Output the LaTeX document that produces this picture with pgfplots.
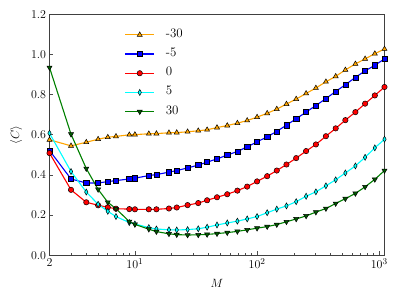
\documentclass[border=0pt]{standalone}
\usepackage{pgfplots}
\pgfplotsset{compat=1.18}
\usepackage{pgfplotstable}
\definecolor{cOr}{HTML}{FFA500}
\definecolor{cBl}{HTML}{0000FF}
\definecolor{cRe}{HTML}{FF0000}
\definecolor{cCy}{HTML}{00FFFF}
\definecolor{cGr}{HTML}{008000}
\definecolor{cGrF}{HTML}{005A00}
\pgfplotstableread{
M a b c d e
2 0.575 0.522 0.509 0.608 0.935
3 0.545 0.380 0.326 0.417 0.603
4 0.563 0.360 0.264 0.315 0.432
5 0.578 0.360 0.249 0.254 0.328
6 0.588 0.367 0.239 0.219 0.264
7 0.592 0.372 0.232 0.193 0.232
9 0.600 0.380 0.230 0.163 0.168
10 0.601 0.384 0.229 0.156 0.154
13 0.605 0.397 0.229 0.138 0.130
15 0.606 0.402 0.229 0.131 0.118
19 0.610 0.414 0.233 0.127 0.107
22 0.611 0.422 0.238 0.126 0.103
27 0.615 0.435 0.250 0.128 0.101
33 0.620 0.449 0.260 0.132 0.102
39 0.625 0.464 0.274 0.140 0.104
47 0.636 0.480 0.289 0.151 0.108
57 0.646 0.499 0.304 0.161 0.113
69 0.658 0.517 0.322 0.170 0.119
83 0.671 0.540 0.342 0.181 0.127
100 0.688 0.565 0.368 0.193 0.135
121 0.707 0.590 0.394 0.212 0.143
145 0.728 0.617 0.422 0.230 0.153
174 0.753 0.648 0.452 0.246 0.167
209 0.778 0.680 0.484 0.267 0.181
252 0.806 0.713 0.519 0.294 0.196
303 0.833 0.746 0.552 0.316 0.215
366 0.864 0.780 0.593 0.346 0.233
440 0.891 0.816 0.632 0.376 0.258
528 0.923 0.849 0.673 0.410 0.282
638 0.953 0.886 0.713 0.445 0.308
766 0.978 0.918 0.755 0.488 0.341
920 1.004 0.946 0.796 0.535 0.378
1104 1.027 0.978 0.838 0.578 0.422
}\datatable
\newcommand{\myfont}{\fontsize{13}{15.6}\selectfont}
\begin{document}
\begin{tikzpicture}[font=\myfont]
\begin{axis}[
  scale only axis, width=335bp, height=241bp,
  font=\myfont,
  tick label style={font=\myfont},
  label style={font=\myfont},
  xmode=log, log basis x=10,
  xmin=2, xmax=1104, ymin=0, ymax=1.2,
  xtick={2,10,100,1000},
  xticklabels={$2$,$10^1$,$10^2$,$10^3$},
  minor xtick={3,4,5,6,7,8,9,20,30,40,50,60,70,80,90,200,300,400,500,600,700,800,900},
  ytick={0,0.2,0.4,0.6,0.8,1.0,1.2},
  yticklabel style={/pgf/number format/.cd,fixed,fixed zerofill,precision=1},
  tick pos=left, tick align=inside,
  major tick length=4bp, minor tick length=2bp,
  every tick/.style={black!70, line width=0.6bp},
  axis line style={black!75, line width=0.9bp},
  xlabel={$M$}, ylabel={$\langle C\rangle$},
  xlabel style={yshift=-4bp},
  ylabel style={yshift=2bp},
  legend cell align=left,
  legend style={draw=none, fill=none, font=\myfont,
    at={(axis description cs:0.215,0.955)}, anchor=north west,
    row sep=4.2bp, nodes={inner sep=0pt, text height=10bp, text depth=5bp},
    /tikz/every odd column/.append style={column sep=11bp}},
  legend image code/.code={\draw[mark repeat=2,mark phase=2] plot coordinates {(0bp,0bp) (14.5bp,0bp) (29bp,0bp)};},
]
\addplot[color=cOr, line width=1.1bp, mark=triangle*, mark size=2.9bp, mark options={draw=black, fill=cOr, line width=0.5bp}] table[x=M,y=a]{\datatable};
\addlegendentry{-30}
\addplot[color=cBl, line width=1.1bp, mark=square*, mark size=2.6bp, mark options={draw=black, fill=cBl, line width=0.5bp}] table[x=M,y=b]{\datatable};
\addlegendentry{-5}
\addplot[color=cRe, line width=1.1bp, mark=*, mark size=2.7bp, mark options={draw=black, fill=cRe, line width=0.5bp}] table[x=M,y=c]{\datatable};
\addlegendentry{0}
\addplot[color=cCy, line width=1.1bp, mark=diamond*, mark size=3bp, mark options={draw=black, fill=cCy, line width=0.5bp, xscale=0.75}] table[x=M,y=d]{\datatable};
\addlegendentry{5}
\addplot[color=cGr, line width=1.1bp, mark=triangle*, mark size=2.9bp, mark options={draw=black, fill=cGrF, line width=0.5bp, rotate=180}] table[x=M,y=e]{\datatable};
\addlegendentry{30}
\coordinate (bl) at (rel axis cs:0,0);
\end{axis}
\pgfresetboundingbox
\path (bl) ++(-49.5bp,-43.7bp) rectangle ++(399bp,299bp);
\end{tikzpicture}
\end{document}
